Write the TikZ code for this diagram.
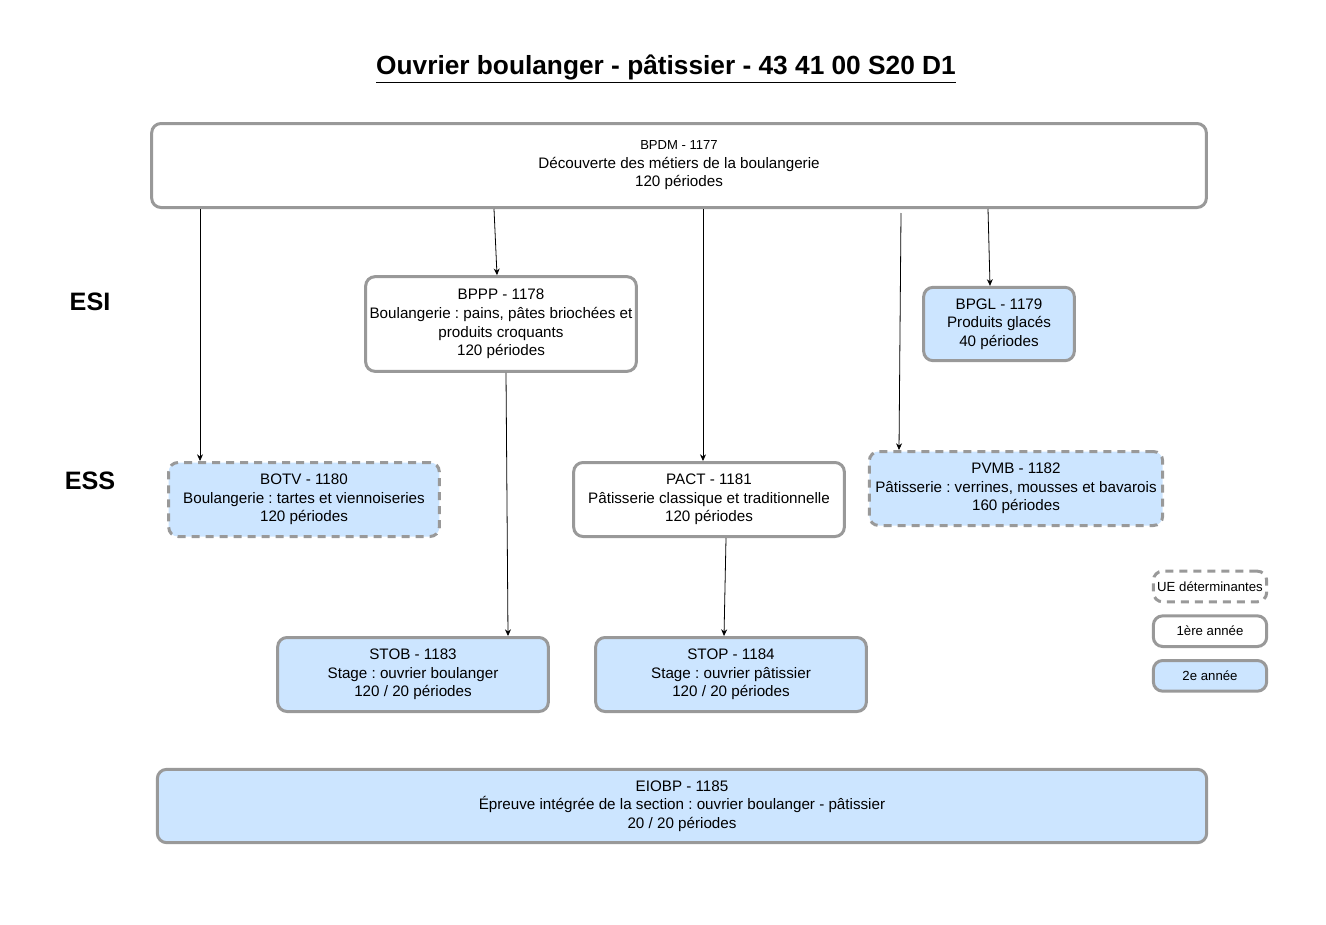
\documentclass[tikz,border=0pt]{standalone}
\usepackage{fontspec}
\setmainfont{Liberation Sans}
\usetikzlibrary{arrows.meta, positioning}
\definecolor{uegray}{RGB}{153, 153, 153}
\definecolor{secondyear}{RGB}{204, 229, 255}
\frenchspacing

\begin{document}
\begin{tikzpicture}[
    x=0.75pt, y=-0.75pt,
    node distance=8.25pt,
    unit/.style={draw=uegray, line width=2.25pt, fill=white, rounded corners=7pt, align=center, inner sep=0pt, font=\fontsize{11.4}{13.9}\selectfont},
    second/.style={unit, fill=secondyear},
    determ/.style={dash pattern=on 6pt off 4.5pt},
    legend/.style={font=\fontsize{9.9}{11}\selectfont, minimum width=85pt, minimum height=23pt},
    arrow/.style={-{Stealth[length=5pt, width=4.5pt]}, line width=0.6pt},
    level/.style={font=\fontsize{18.9}{22}\selectfont\bfseries}
]
    \useasboundingbox (0,0) rectangle (1326,924);

    % Title
    \node[font=\fontsize{19.7}{23}\selectfont\bfseries] (title) at (666,69) {\underline{Ouvrier boulanger - pâtissier - 43 41 00 S20 D1}};

    % Levels
    \node[level] (esi) at (90,302) {ESI};
    \node[level] (ess) at (90,481) {ESS};
    \coordinate (sepL) at (112,406.5);
    \coordinate (sepR) at (1208,406.5);
    \draw[double, double distance=1.6pt, line width=0.5pt] (sepL) -- (sepR);

    % Units
    \node[unit, minimum width=791pt, minimum height=63pt] (bpdm) at (679,165.5)
        {{\fontsize{9.8}{12}\selectfont BPDM - 1177}\\Découverte des métiers de la boulangerie\\120 périodes};
    \node[unit, minimum width=203pt, minimum height=71pt] (bppp) at (501,324)
        {BPPP - 1178\\Boulangerie : pains, pâtes briochées et\\produits croquants\\120 périodes};
    \node[second, minimum width=113pt, minimum height=55pt] (bpgl) at (999,324)
        {BPGL - 1179\\Produits glacés\\40 périodes};
    \node[second, determ, minimum width=203pt, minimum height=55.5pt] (botv) at (304,499.5)
        {BOTV - 1180\\Boulangerie : tartes et viennoiseries\\120 périodes};
    \node[unit, minimum width=203pt, minimum height=55.5pt] (pact) at (709,499.5)
        {PACT - 1181\\Pâtisserie classique et traditionnelle\\120 périodes};
    \node[second, determ, minimum width=220pt, minimum height=55.5pt] (pvmb) at (1016,488.5)
        {PVMB - 1182\\Pâtisserie : verrines, mousses et bavarois\\160 périodes};
    \node[second, minimum width=203pt, minimum height=55.5pt] (stob) at (413,674.5)
        {STOB - 1183\\Stage : ouvrier boulanger\\120 / 20 périodes};
    \node[second, minimum width=203pt, minimum height=55.5pt] (stop) at (731,674.5)
        {STOP - 1184\\Stage : ouvrier pâtissier\\120 / 20 périodes};
    \node[second, minimum width=787pt, minimum height=55pt] (eiobp) at (682,806)
        {EIOBP - 1185\\Épreuve intégrée de la section : ouvrier boulanger - pâtissier\\20 / 20 périodes};

    % Legend
    \node[unit, determ, legend] (legdet) at (1210,586.5) {UE déterminantes};
    \node[unit, legend, below=of legdet] (legfirst) {1ère année};
    \node[second, legend, below=of legfirst] (legsecond) {2e année};

    % Prerequisites
    \coordinate (pvmbstart) at (901,213);
    \draw[arrow] (bpdm.south -| 200,0) -- (botv.north -| 200,0);
    \draw[arrow] (bpdm.south -| 494,0) -- (bppp.north -| 497,0);
    \draw[arrow] (bpdm.south -| 703,0) -- (pact.north -| 703,0);
    \draw[arrow] (pvmbstart) -- (pvmb.north -| 899,0);
    \draw[arrow] (bpdm.south -| 988,0) -- (bpgl.north -| 990,0);
    \draw[arrow] (bppp.south -| 506,0) -- (stob.north -| 508,0);
    \draw[arrow] (pact.south -| 726,0) -- (stop.north -| 724,0);
\end{tikzpicture}
\end{document}
